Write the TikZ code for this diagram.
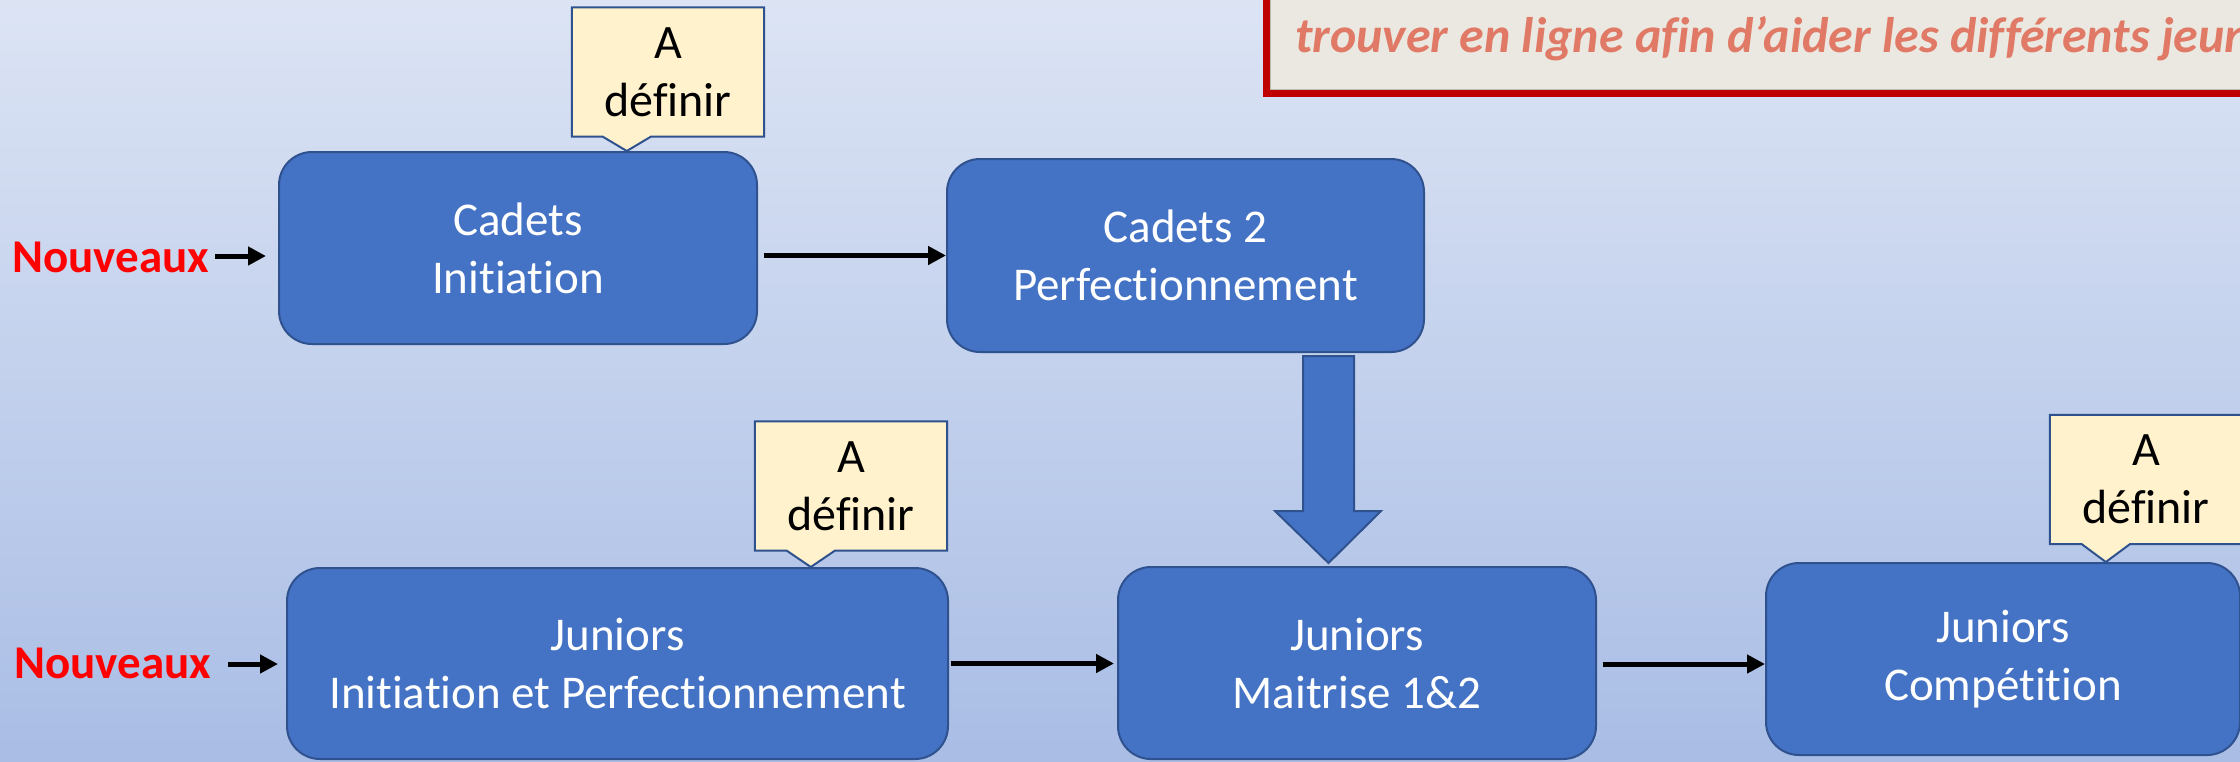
\documentclass[tikz,border=0pt]{standalone}
\usepackage{fontspec}
\setmainfont[Ligatures={NoCommon}]{Carlito}
\usetikzlibrary{arrows.meta,calc}
\definecolor{boxfill}{HTML}{4472C4}
\definecolor{boxline}{HTML}{2F528F}
\definecolor{callfill}{HTML}{FFF2CC}
\definecolor{bgtop}{HTML}{DCE4F4}
\definecolor{bgbot}{HTML}{A9BDE5}
\definecolor{noteline}{HTML}{C00000}
\definecolor{notefill}{HTML}{EAE8E0}
\definecolor{notetext}{HTML}{E07A66}
\definecolor{newred}{HTML}{FF0000}
\pgfdeclarelayer{front}
\pgfsetlayers{main,front}
\begin{document}
\begin{tikzpicture}[x=1pt,y=-1pt,
  stage/.style={draw=boxline, fill=boxfill, line width=2pt, rounded corners=33pt, text=white, align=center, font=\fontsize{47}{58}\selectfont, inner sep=0pt},
  calltext/.style={align=center, font=\fontsize{48}{58}\selectfont, minimum width=192pt, minimum height=129pt, inner sep=0pt},
  callshape/.style={draw=boxline, fill=callfill, line width=2pt, line join=miter},
  flow/.style={line width=5pt, -{Triangle[length=18pt,width=18pt]}},
  newlabel/.style={text=newred, font=\fontsize{47}{55}\selectfont\bfseries, inner sep=0pt, anchor=base west},
  bigarrow/.style={draw=boxline, fill=boxfill, line width=2pt, line join=miter},
]
\clip (0,0) rectangle (2240,761);
\shade[top color=bgtop, bottom color=bgbot] (0,0) rectangle (2240,761);

% note box (top right)
\draw[noteline, fill=notefill, line width=7pt] (1266.5,-30) rectangle (2300,93.5);
\draw[color=notefill!80!black, line width=1pt] (1270.5,-30) -- (1270.5,89.5) -- (2300,89.5);
\node[anchor=base west, text=notetext, font=\fontsize{50}{58}\selectfont\bfseries\itshape, inner sep=0pt] (nt) at (1295,52) {trouver en ligne afin d’aider les différents jeunes};

% stages
\node[stage, minimum width=478pt, minimum height=192pt] (ci) at (518,248) {Cadets\\Initiation};
\node[stage, minimum width=477pt, minimum height=193pt] (c2) at (1185.5,255.5) {Cadets 2\\Perfectionnement};
\node[stage, minimum width=661pt, minimum height=191pt] (jip) at (617.5,663.5) {Juniors\\Initiation et Perfectionnement};
\node[stage, minimum width=478pt, minimum height=192pt] (jm) at (1357,663) {Juniors\\Maitrise 1\&2};
\node[stage, minimum width=474pt, minimum height=192pt] (jc) at (2003,659) {Juniors\\Compétition};

% new entrants
\node[newlabel] (n1) at (12,272) {Nouveaux};
\node[newlabel] (n2) at (14,678) {Nouveaux};
\coordinate (s1) at (215,256);
\coordinate (s2) at (228,664);
\draw[flow] (s1) -- ($(ci.west |- s1)+(-12,0)$);
\draw[flow] (s2) -- ($(jip.west |- s2)+(-8,0)$);

% flow arrows
\draw[flow] ($(ci.east |- c2.west)+(6,0)$) -- (c2.west);
\coordinate (s4) at ($(jip.east)+(2,0)$);
\draw[flow] (s4) -- ($(jm.west |- s4)+(-3,0)$);
\coordinate (s3) at ($(jm.east)+(6,1)$);
\draw[flow] (s3) -- (jc.west |- s3);

% big arrow
\coordinate (bt) at (1328.5,356);
\draw[bigarrow] ($(bt)+(-25.5,0)$) -- ($(bt)+(25.5,0)$) -- ($(bt)+(25.5,155)$) -- ($(bt)+(52.5,155)$) -- ($(bt |- jm.north)+(0,-3)$) -- ($(bt)+(-53.5,155)$) -- ($(bt)+(-25.5,155)$) -- cycle;

% callouts
\begin{pgfonlayer}{front}
\node[calltext] (k1) at (668,72) {A\\définir};
\node[calltext] (k2) at (851,486) {A\\définir};
\node[calltext] (k3) at (2146,479.5) {A\\définir};
\end{pgfonlayer}
\coordinate (k1p) at ($(k1.south west)+(55,0)$);
\coordinate (k2p) at ($(k2.south west)+(56,0)$);
\coordinate (k3p) at ($(k3.south west)+(56,0)$);
\draw[callshape] (k1.north west) -- (k1.north east) -- (k1.south east) -- ($(k1.south west)+(79,0)$) -- (k1p |- ci.north) -- ($(k1.south west)+(31,0)$) -- (k1.south west) -- cycle;
\draw[callshape] (k2.north west) -- (k2.north east) -- (k2.south east) -- ($(k2.south west)+(80,0)$) -- (k2p |- jip.north) -- ($(k2.south west)+(32,0)$) -- (k2.south west) -- cycle;
\draw[callshape] (k3.north west) -- (k3.north east) -- (k3.south east) -- ($(k3.south west)+(80,0)$) -- (k3p |- jc.north) -- ($(k3.south west)+(32,0)$) -- (k3.south west) -- cycle;
\end{tikzpicture}
\end{document}
